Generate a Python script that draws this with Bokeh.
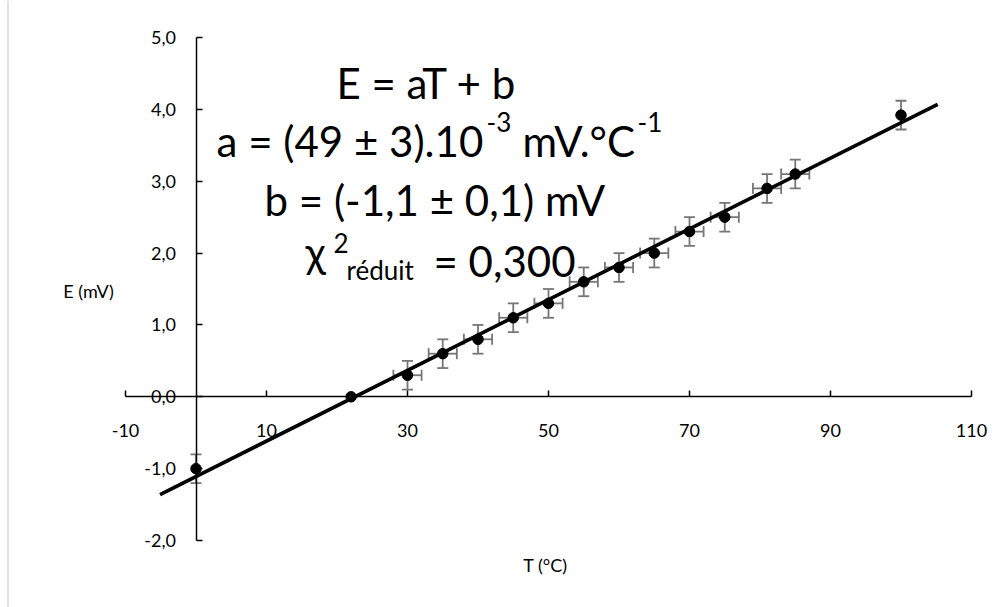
from bokeh.plotting import figure
from bokeh.models import ColumnDataSource, Whisker, TeeHead, Label, Span, FixedTicker, Range1d
from bokeh.embed import file_html
from bokeh.resources import INLINE

# ---------------- data ----------------
T = [0, 22, 30, 35, 40, 45, 50, 55, 60, 65, 70, 75, 81, 85, 100]
E = [-1.0, 0.0, 0.3, 0.6, 0.8, 1.1, 1.3, 1.6, 1.8, 2.0, 2.3, 2.5, 2.9, 3.1, 3.92]
T_err = [0, 0, 2, 2, 2, 2, 2, 2, 2, 2, 2, 2, 2, 2, 0]
E_err = [0.2, 0, 0.2, 0.2, 0.2, 0.2, 0.2, 0.2, 0.2, 0.2, 0.2, 0.2, 0.2, 0.2, 0.2]
fit_T = [-5.1, 105.2]
fit_E = [-1.36, 4.07]
x_ticks = [-10, 10, 30, 50, 70, 90, 110]
x_tick_labels = ["-10", "10", "30", "50", "70", "90", "110"]
y_ticks = [-2, -1, 0, 1, 2, 3, 4, 5]
y_tick_labels = ["-2,0", "-1,0", "0,0", "1,0", "2,0", "3,0", "4,0", "5,0"]

# ---------------- layout ----------------
W, H = 1006, 607
X0PX, XSCALE = 195.5, 7.05
Y0PX, YSCALE = 396.3, 71.857


def dx(px):
    return (px - X0PX) / XSCALE


def dy(py):
    return (Y0PX - py) / YSCALE


FONT = "Lato"

p = figure(width=W, height=H, output_backend="svg", toolbar_location=None,
           x_range=Range1d(dx(0), dx(W)), y_range=Range1d(dy(H), dy(0)),
           min_border=0, outline_line_color=None,
           background_fill_color="white", border_fill_color="white")
p.grid.visible = False

for ax, ticks, labels in ((p.xaxis, x_ticks, x_tick_labels), (p.yaxis, y_ticks, y_tick_labels)):
    ax.fixed_location = 0
    ax.ticker = FixedTicker(ticks=ticks, minor_ticks=[])
    ax.major_label_overrides = {t: l for t, l in zip(ticks, labels)}
    ax.axis_line_color = "black"
    ax.axis_line_width = 1.5
    ax.major_tick_line_color = "black"
    ax.major_tick_line_width = 1.5
    ax.major_tick_in = 6
    ax.major_tick_out = 0
    ax.minor_tick_line_color = None
    ax.major_label_text_font = FONT
    ax.major_label_text_font_size = "18px"
    ax.major_label_text_color = "black"
p.xaxis.bounds = (x_ticks[0], x_ticks[-1])
p.yaxis.bounds = (y_ticks[0], y_ticks[-1])
p.xaxis.major_label_standoff = 27
p.yaxis.major_label_standoff = 20

# chart-area border (left edge visible)
p.add_layout(Span(location=dx(7.5), dimension="height", line_color="#d9d9d9", line_width=1.5))

# error bars
ERR_COLOR = "#767676"
vb = [(t, e - de, e + de) for t, e, de in zip(T, E, E_err) if de > 0]
hb = [(e, t - dt, t + dt) for t, e, dt in zip(T, E, T_err) if dt > 0]
vsrc = ColumnDataSource(dict(base=[a for a, _, _ in vb], lower=[b for _, b, _ in vb], upper=[c for _, _, c in vb]))
hsrc = ColumnDataSource(dict(base=[a for a, _, _ in hb], lower=[b for _, b, _ in hb], upper=[c for _, _, c in hb]))
for src, dim in ((vsrc, "height"), (hsrc, "width")):
    w = Whisker(source=src, base="base", lower="lower", upper="upper", dimension=dim,
                line_color=ERR_COLOR, line_width=1.8, level="underlay",
                upper_head=TeeHead(size=11, line_color=ERR_COLOR, line_width=1.8),
                lower_head=TeeHead(size=11, line_color=ERR_COLOR, line_width=1.8))
    p.add_layout(w)

p.scatter(T, E, size=10.5, color="black")
p.line(fit_T, fit_E, line_width=3.6, color="black")

# axis titles
p.add_layout(Label(x=dx(88), y=dy(290), text="E (mV)", text_font=FONT, text_font_size="18px",
                   text_align="center", text_baseline="middle", text_color="black"))
p.add_layout(Label(x=dx(545), y=dy(564), text="T (°C)", text_font=FONT, text_font_size="18px",
                   text_align="center", text_baseline="middle", text_color="black"))

# equation block
BIG, SMALL = "42px", "26px"
pieces = [
    ("E = aT + b", 336, 82, BIG),
    ("a = (49 ± 3).10", 216, 140, BIG),
    ("-3", 486, 121, SMALL),
    ("mV.°C", 522, 140, BIG),
    ("-1", 637, 121, SMALL),
    ("b = (-1,1 ± 0,1) mV", 264, 199, BIG),
    ("χ", 305, 251, BIG),
    ("2", 333, 242, SMALL),
    ("réduit", 346, 269, SMALL),
    ("= 0,300", 433, 260, BIG),
]
for txt, px, py, fs in pieces:
    p.add_layout(Label(x=dx(px), y=dy(py), text=txt, text_font=FONT, text_font_size=fs,
                       text_align="left", text_baseline="alphabetic", text_color="black"))

open("out.html", "w").write(file_html(p, INLINE))
